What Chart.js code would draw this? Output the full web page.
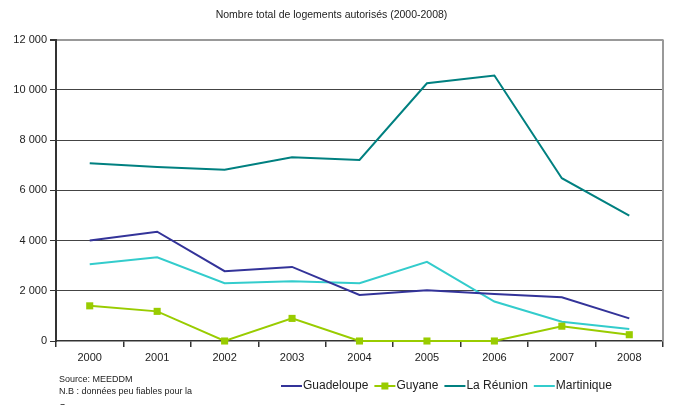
<!DOCTYPE html>
<html>
<head>
<meta charset="utf-8">
<script src="https://cdn.jsdelivr.net/npm/chart.js@4"></script>
<style>
html,body{margin:0;padding:0;background:#fff;}
#wrap{width:673px;height:405px;position:relative;}
</style>
</head>
<body>
<div id="wrap"><canvas id="c" width="673" height="405"></canvas></div>
<script>
const categories = ['2000','2001','2002','2003','2004','2005','2006','2007','2008'];
const guadeloupe = [4000, 4350, 2780, 2950, 1830, 2020, 1870, 1740, 900];
const guyane     = [1400, 1180, 0, 900, 0, 0, 0, 590, 250];
const reunion    = [7080, 6930, 6820, 7320, 7210, 10260, 10570, 6480, 4990];
const martinique = [3060, 3330, 2300, 2380, 2300, 3150, 1570, 770, 480];
const yTicks = [0, 2000, 4000, 6000, 8000, 10000, 12000];
const seriesNames = ['Guadeloupe', 'Guyane', 'La Réunion', 'Martinique'];
const seriesColors = ['#333399', '#99cc00', '#008080', '#33cccc'];
const sourceLines = ['Source: MEEDDM', 'N.B : données peu fiables pour la', 'Guyane'];

const FONT = '"Liberation Sans", Arial, sans-serif';
const fmt = v => String(v).replace(/\B(?=(\d{3})+(?!\d))/g, ' ');

const extras = {
  id: 'extras',
  beforeDatasetsDraw(chart) {
    const {ctx, chartArea: a} = chart;
    ctx.save();
    ctx.strokeStyle = '#999';
    ctx.lineWidth = 2;
    ctx.beginPath();
    ctx.moveTo(a.right, a.top);
    ctx.lineTo(a.right, a.bottom);
    ctx.stroke();
    ctx.restore();
  },
  afterDraw(chart) {
    const {ctx} = chart;
    ctx.save();
    // source notes
    ctx.fillStyle = '#222';
    ctx.font = '9px ' + FONT;
    ctx.textBaseline = 'alphabetic';
    ctx.textAlign = 'left';
    ctx.fillText(sourceLines[0], 59, 382);
    ctx.fillText(sourceLines[1], 59, 394);
    ctx.fillText(sourceLines[2], 59, 410);
    // legend
    ctx.font = '12px ' + FONT;
    ctx.textBaseline = 'middle';
    let x = 281;
    const y = 386;
    seriesNames.forEach((name, i) => {
      ctx.strokeStyle = seriesColors[i];
      ctx.lineWidth = 2;
      ctx.beginPath();
      ctx.moveTo(x, y);
      ctx.lineTo(x + 21, y);
      ctx.stroke();
      if (i === 1) {
        ctx.fillStyle = seriesColors[i];
        ctx.fillRect(x + 7, y - 3.5, 7, 7);
      }
      ctx.fillStyle = '#222';
      ctx.fillText(name, x + 22, y);
      x += 22 + ctx.measureText(name).width + 6;
    });
    ctx.restore();
  }
};

const data = [guadeloupe, guyane, reunion, martinique];

new Chart(document.getElementById('c'), {
  type: 'line',
  data: {
    labels: categories,
    datasets: seriesNames.map((n, i) => ({
      label: n,
      data: data[i],
      borderColor: seriesColors[i],
      backgroundColor: seriesColors[i],
      borderWidth: 2,
      tension: 0,
      pointStyle: 'rect',
      pointRadius: i === 1 ? 5 : 0,
      pointHoverRadius: i === 1 ? 5 : 0,
      pointBorderWidth: 0,
      clip: false
    }))
  },
  options: {
    responsive: false,
    animation: false,
    devicePixelRatio: 1,
    layout: {padding: {top: 0, right: 10, bottom: 0, left: 0}},
    plugins: {
      legend: {display: false},
      tooltip: {enabled: false},
      title: {
        display: true,
        text: 'Nombre total de logements autorisés (2000-2008)',
        color: '#222',
        font: {family: FONT, size: 10.5, weight: 'normal'},
        padding: {top: 9, bottom: 18}
      }
    },
    scales: {
      x: {
        offset: true,
        grid: {
          offset: true,
          drawOnChartArea: false,
          drawTicks: true,
          tickLength: 6,
          color: '#333',
          lineWidth: 1.5
        },
        border: {color: '#333', width: 1.5},
        ticks: {color: '#222', font: {family: FONT, size: 11}, padding: 4, maxRotation: 0, autoSkip: false},
        afterFit(s) { s.height = 64; }
      },
      y: {
        min: 0,
        max: 12000,
        afterBuildTicks(s) { s.ticks = yTicks.map(v => ({value: v})); },
        grid: {
          color: c => (c.tick && c.tick.value === 12000) ? '#999' : (c.tick && c.tick.value === 0 ? 'rgba(0,0,0,0)' : '#444'),
          lineWidth: c => (c.tick && c.tick.value === 12000) ? 2 : 1,
          tickColor: '#333',
          tickLength: 6
        },
        border: {color: '#333', width: 2},
        ticks: {color: '#222', font: {family: FONT, size: 11}, padding: 3, callback: v => fmt(v)},
        afterFit(s) { s.width = 56; }
      }
    }
  },
  plugins: [extras]
});
</script>
</body>
</html>
